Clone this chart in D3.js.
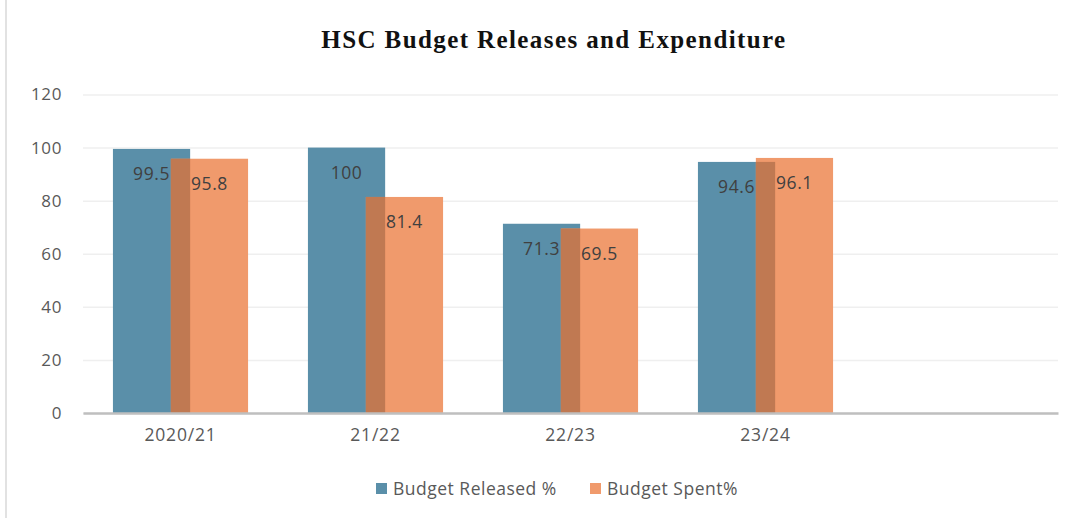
<!DOCTYPE html>
<html>
<head>
<meta charset="utf-8">
<script src="https://cdn.jsdelivr.net/npm/d3@7"></script>
<style>
  body { margin: 0; background: #fff; }
  svg { display: block; }
</style>
</head>
<body>
<script>
// chart data
var years = ["2020/21", "21/22", "22/23", "23/24", ""];
var released = [99.5, 100, 71.3, 94.6, null];
var spent = [95.8, 81.4, 69.5, 96.1, null];
var yTicks = [0, 20, 40, 60, 80, 100, 120];
var seriesNames = ["Budget Released %", "Budget Spent%"];

var width = 1083, height = 518;
var margin = { left: 83, right: 25, top: 94.5, bottom: 105 };

var blue = "#5a8fa9", orange = "#f09a6c", brown = "#c07952";

var svg = d3.select("body").append("svg")
    .attr("width", width).attr("height", height);

// faint left border of the chart area
svg.append("line")
    .attr("x1", 6).attr("x2", 6).attr("y1", 0).attr("y2", height)
    .style("stroke", "#d9d9d9").style("stroke-width", 1.5);

svg.append("text")
    .attr("x", 554).attr("y", 48)
    .attr("text-anchor", "middle")
    .style("font-family", "'Liberation Serif', 'Times New Roman', serif")
    .style("font-weight", "bold")
    .style("font-size", "25px")
    .style("letter-spacing", "1.4px")
    .style("fill", "#111")
    .text("HSC Budget Releases and Expenditure");

var xScale = d3.scaleBand()
    .domain(years)
    .range([margin.left, width - margin.right]);

var yScale = d3.scaleLinear()
    .domain([0, 120])
    .range([height - margin.bottom, margin.top]);

// gridlines + y labels
var yAxis = svg.append("g")
    .attr("transform", "translate(" + margin.left + ",0)")
    .call(d3.axisLeft(yScale).tickValues(yTicks)
        .tickSize(-(width - margin.left - margin.right))
        .tickPadding(21));
yAxis.select(".domain").remove();
yAxis.selectAll(".tick line").style("stroke", "#efefef").style("stroke-width", 1.5);
yAxis.selectAll(".tick text")
    .style("font-family", "'Open Sans', sans-serif")
    .style("font-size", "17px")
    .style("letter-spacing", "0.6px")
    .style("fill", "#595959");

var bw = xScale.bandwidth() * 0.396;
var ov = bw * 0.25;
function blueX(i) { return xScale(years[i]) + xScale.bandwidth() / 2 - (2 * bw - ov) / 2; }
function orangeX(i) { return blueX(i) + bw - ov; }

var rows = years.map(function(d, i) {
    return { year: d, i: i, r: released[i], s: spent[i] };
}).filter(function(d) { return d.r != null; });

svg.selectAll(".bar-r").data(rows).enter().append("rect")
    .attr("class", "bar-r")
    .attr("x", function(d) { return blueX(d.i); })
    .attr("y", function(d) { return yScale(d.r); })
    .attr("width", bw)
    .attr("height", function(d) { return yScale(0) - yScale(d.r); })
    .attr("fill", blue);

svg.selectAll(".bar-s").data(rows).enter().append("rect")
    .attr("class", "bar-s")
    .attr("x", function(d) { return orangeX(d.i); })
    .attr("y", function(d) { return yScale(d.s); })
    .attr("width", bw)
    .attr("height", function(d) { return yScale(0) - yScale(d.s); })
    .attr("fill", orange);

// overlapping part of the two bars
svg.selectAll(".bar-o").data(rows).enter().append("rect")
    .attr("class", "bar-o")
    .attr("x", function(d) { return orangeX(d.i); })
    .attr("y", function(d) { return yScale(Math.min(d.r, d.s)); })
    .attr("width", ov)
    .attr("height", function(d) { return yScale(0) - yScale(Math.min(d.r, d.s)); })
    .attr("fill", brown);

// x axis
var xAxis = svg.append("g")
    .attr("transform", "translate(0," + yScale(0) + ")")
    .call(d3.axisBottom(xScale).tickSize(0).tickPadding(16));
xAxis.select(".domain").style("stroke", "#bfbfbf").style("stroke-width", 2.5);
xAxis.selectAll(".tick text")
    .style("font-family", "'Open Sans', sans-serif")
    .style("font-size", "17.5px")
    .style("letter-spacing", "0.8px")
    .style("fill", "#595959");

// value labels
var labelStyle = function(sel) {
    sel.attr("text-anchor", "middle")
        .style("font-family", "'Open Sans', sans-serif")
        .style("font-size", "17.5px")
        .style("letter-spacing", "0.6px")
        .style("fill", "#404040");
};
svg.selectAll(".lab-r").data(rows).enter().append("text")
    .attr("x", function(d) { return blueX(d.i) + bw / 2; })
    .attr("y", function(d) { return yScale(d.r) + 31; })
    .call(labelStyle)
    .text(function(d) { return d.r; });
svg.selectAll(".lab-s").data(rows).enter().append("text")
    .attr("x", function(d) { return orangeX(d.i) + bw / 2; })
    .attr("y", function(d) { return yScale(d.s) + 31; })
    .call(labelStyle)
    .text(function(d) { return d.s; });

// legend
var legendX = [376, 590];
var legend = svg.selectAll(".legend").data(seriesNames).enter().append("g")
    .attr("transform", function(d, i) { return "translate(" + legendX[i] + ",483)"; });
legend.append("rect")
    .attr("width", 11).attr("height", 11)
    .attr("fill", function(d, i) { return i === 0 ? blue : orange; });
legend.append("text")
    .attr("x", 17).attr("y", 11.5)
    .style("font-family", "'Open Sans', sans-serif")
    .style("font-size", "17.5px")
    .style("letter-spacing", "0.5px")
    .style("fill", "#595959")
    .text(function(d) { return d; });
</script>
</body>
</html>
